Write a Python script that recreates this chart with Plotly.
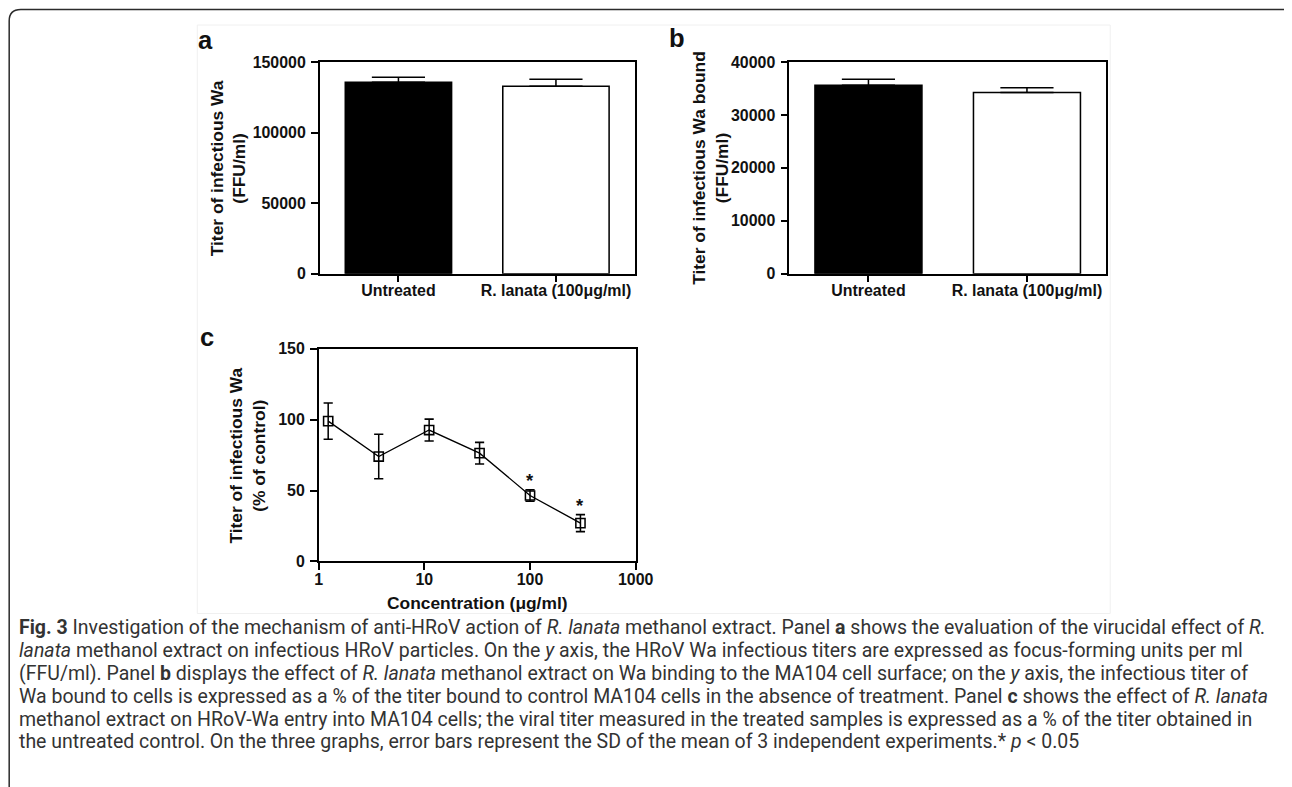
import numpy as np
import plotly.graph_objects as go

# Target positions below are in reference-picture pixels (1292x787).
# Empirically the figure appears in the picture at origin (OX, OY) with scales (SX, SY),
# so every target pixel is mapped back into figure pixels.
PAGE_W, PAGE_H = 1292, 787
OX, SX = 12.3, 0.980
OY, SY = 16.0, 0.976
FW = int(np.ceil((PAGE_W - OX) / SX))
FH = int(np.ceil((PAGE_H - OY) / SY))
K = 1 / 0.978  # size compensation

# ---------------- data ----------------
categories = ["Untreated", "R. lanata (100μg/ml)"]
bar_colors = ["#000000", "#ffffff"]

titer_a = [135800, 132900]          # FFU/ml
sd_a = [3500, 5000]

titer_b = [35600, 34250]            # FFU/ml bound
sd_b = [1150, 900]

conc_c = [1.23, 3.7, 11.1, 33.3, 100, 300]   # µg/ml
pct_c = [99, 74, 92.7, 76.4, 46.5, 27]       # % of control
sd_c = [12.8, 15.7, 7.7, 7.6, 4, 6]
sig_c = [False, False, False, False, True, True]

yticks_a = [0, 50000, 100000, 150000]
yticks_b = [0, 10000, 20000, 30000, 40000]
yticks_c = [0, 50, 100, 150]
xticks_c = [1, 10, 100, 1000]
xticktext_c = ["1", "10", "100", "1000"]

caption_lines = [
    "<b>Fig. 3</b> Investigation of the mechanism of anti-HRoV action of <i>R. lanata</i> methanol extract. Panel <b>a</b> shows the evaluation of the virucidal effect of <i>R.</i>",
    "<i>lanata</i> methanol extract on infectious HRoV particles. On the <i>y</i> axis, the HRoV Wa infectious titers are expressed as focus-forming units per ml",
    "(FFU/ml). Panel <b>b</b> displays the effect of <i>R. lanata</i> methanol extract on Wa binding to the MA104 cell surface; on the <i>y</i> axis, the infectious titer of",
    "Wa bound to cells is expressed as a % of the titer bound to control MA104 cells in the absence of treatment. Panel <b>c</b> shows the effect of <i>R. lanata</i>",
    "methanol extract on HRoV-Wa entry into MA104 cells; the viral titer measured in the treated samples is expressed as a % of the titer obtained in",
    "the untreated control. On the three graphs, error bars represent the SD of the mean of 3 independent experiments.* <i>p</i> &lt; 0.05",
]

# ---------------- helpers (picture pixel -> paper fraction) ----------------
def px(x):
    return ((x - OX) / SX) / FW

def py(y):
    return 1 - ((y - OY) / SY) / FH

FONT = "Liberation Sans, Arial, sans-serif"
INK = "#111111"

fig = go.Figure()

err_bar = dict(type="data", symmetric=False, color="black", thickness=1.5 * K, width=26 * K)

# panel a bars
fig.add_trace(go.Bar(
    x=categories, y=titer_a, xaxis="x", yaxis="y",
    marker=dict(color=bar_colors, line=dict(color="black", width=1.5 * K)),
    width=0.675,
    error_y=dict(array=sd_a, arrayminus=[0] * len(sd_a), **err_bar),
))
# panel b bars
fig.add_trace(go.Bar(
    x=categories, y=titer_b, xaxis="x2", yaxis="y2",
    marker=dict(color=bar_colors, line=dict(color="black", width=1.5 * K)),
    width=0.675,
    error_y=dict(array=sd_b, arrayminus=[0] * len(sd_b), **err_bar),
))
# panel c dose-response
fig.add_trace(go.Scatter(
    x=conc_c, y=pct_c, xaxis="x3", yaxis="y3", mode="lines+markers",
    line=dict(color="black", width=1.3 * K),
    marker=dict(symbol="square-open", size=9 * K, color="black", line=dict(width=1.5 * K)),
    error_y=dict(type="data", array=sd_c, color="black", thickness=1.5 * K, width=4.5 * K),
))

axis_common = dict(showline=True, linecolor="black", linewidth=2 * K, mirror=True,
                   showgrid=False, zeroline=False, ticks="outside", ticklen=6.5 * K,
                   tickwidth=2 * K, tickcolor="black",
                   tickfont=dict(family=FONT, size=15.6 * K, color=INK, weight="bold"))

fig.update_layout(
    width=FW, height=FH,
    margin=dict(l=0, r=0, t=0, b=0, pad=0),
    paper_bgcolor="white", plot_bgcolor="white",
    showlegend=False,
    xaxis=dict(domain=[px(319), px(633)], anchor="y", type="category",
               range=[-0.5, 1.5], ticklabelstandoff=-5, **axis_common),
    yaxis=dict(domain=[py(273), py(62)], anchor="x", range=[0, 150000],
               tickvals=yticks_a, tickformat="d", ticklabelstandoff=2, **axis_common),
    xaxis2=dict(domain=[px(787), px(1103)], anchor="y2", type="category",
                range=[-0.5, 1.5], ticklabelstandoff=-5, **axis_common),
    yaxis2=dict(domain=[py(273), py(62)], anchor="x2", range=[0, 40000],
                tickvals=yticks_b, tickformat="d", ticklabelstandoff=2, **axis_common),
    xaxis3=dict(domain=[px(318), px(634)], anchor="y3", type="log",
                range=[0, 3], tickvals=xticks_c, ticktext=xticktext_c,
                ticklabelstandoff=-4, **axis_common),
    yaxis3=dict(domain=[py(560), py(348)], anchor="x3", range=[0, 150],
                tickvals=yticks_c, ticklabelstandoff=2, **axis_common),
)

annotations = []
title_font = dict(family=FONT, size=17 * K, color=INK, weight="bold")

# y-axis titles
for x_c, y_c, txt in [
    (228, 167.5, "Titer of infectious Wa<br>(FFU/ml)"),
    (709, 167.5, "Titer of infectious Wa bound<br>(FFU/ml)"),
    (247, 454, "Titer of infectious Wa<br>(% of control)"),
]:
    annotations.append(dict(x=px(x_c), y=py(y_c), xref="paper", yref="paper",
                            text=txt, textangle=-90, showarrow=False,
                            xanchor="center", yanchor="middle", font=title_font))
# x-axis title panel c
annotations.append(dict(x=px(476), y=py(602), xref="paper", yref="paper",
                        text="Concentration (μg/ml)", showarrow=False,
                        xanchor="center", yanchor="middle", font=title_font))

# panel letters
for x_c, y_c, txt in [(205, 40, "a"), (675, 38, "b"), (207, 336, "c")]:
    annotations.append(dict(x=px(x_c), y=py(y_c), xref="paper", yref="paper",
                            text=txt, showarrow=False, xanchor="center", yanchor="middle",
                            font=dict(family=FONT, size=25 * K, color=INK, weight="bold")))

# significance stars
for c, v, s, sig in zip(conc_c, pct_c, sd_c, sig_c):
    if sig:
        annotations.append(dict(x=np.log10(c), y=v + s, xref="x3", yref="y3",
                                text="*", showarrow=False, xanchor="center",
                                yanchor="middle", yshift=9 * K,
                                font=dict(family=FONT, size=18 * K, color=INK, weight="bold")))

# caption
cap_y = [626, 649, 672, 695, 718, 740]
for yy, line in zip(cap_y, caption_lines):
    annotations.append(dict(x=px(17), y=py(yy), xref="paper", yref="paper",
                            text=line, showarrow=False, xanchor="left", yanchor="middle",
                            align="left",
                            font=dict(family="Roboto, sans-serif", size=19.5, color="#333333")))

fig.update_layout(annotations=annotations)

# decorative frame (rounded top-left corner) and faint image border
frame_path = (f"M {px(9.5)},{py(800)} L {px(9.5)},{py(21)} "
              f"Q {px(9.5)},{py(9.5)} {px(21)},{py(9.5)} "
              f"L {px(1284)},{py(9.5)} Q {px(1290)},{py(9.5)} {px(1293)},{py(15)}")
fig.add_shape(type="path", path=frame_path, xref="paper", yref="paper",
              line=dict(color="#2b2b2b", width=1.5))
fig.add_shape(type="rect", x0=px(197), x1=px(1107), y0=py(612), y1=py(25),
              xref="paper", yref="paper", line=dict(color="#f0f0f0", width=1),
              layer="below")

fig.write_html("out.html")
